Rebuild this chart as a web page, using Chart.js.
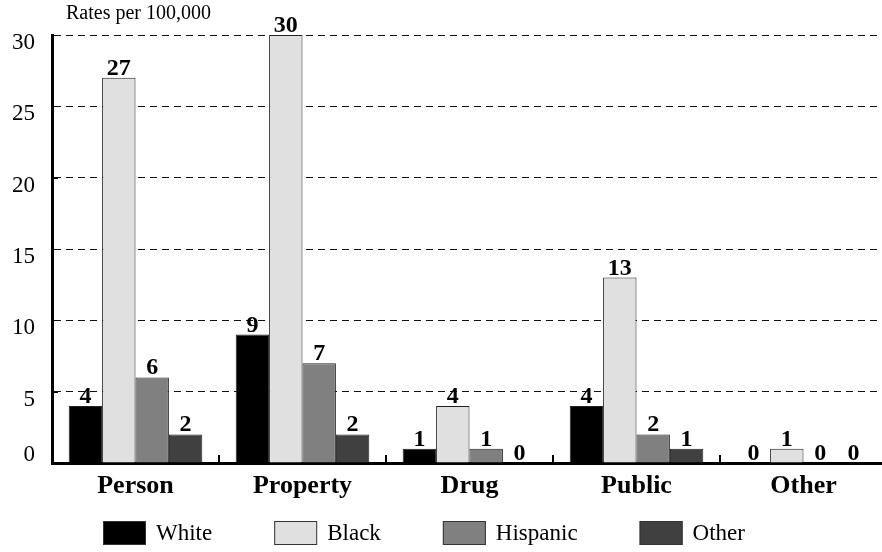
<!DOCTYPE html>
<html>
<head>
<meta charset="utf-8">
<script src="https://cdn.jsdelivr.net/npm/chart.js@4"></script>
<style>
  html, body { margin: 0; padding: 0; background: #fff; overflow: hidden; }
  #wrap { width: 882px; height: 552px; overflow: hidden; }
</style>
</head>
<body>
<div id="wrap"><canvas id="chart" width="890" height="552"></canvas></div>
<script>
const categories = ['Person', 'Property', 'Drug', 'Public', 'Other'];
const seriesNames = ['White', 'Black', 'Hispanic', 'Other'];
const whiteRates = [4, 9, 1, 4, 0];
const blackRates = [27, 30, 4, 13, 1];
const hispanicRates = [6, 7, 1, 2, 0];
const otherRates = [2, 2, 0, 1, 0];
const yTicks = [0, 5, 10, 15, 20, 25, 30];

const colors = ['#000000', '#e0e0e0', '#808080', '#404040'];
const serif = '"Liberation Serif", "Times New Roman", serif';

// value labels, small ticks, legend and axis title
const extras = {
  id: 'extras',
  afterDatasetsDraw(chart) {
    const ctx = chart.ctx;
    ctx.save();
    ctx.font = 'bold 24px ' + serif;
    ctx.fillStyle = '#000';
    ctx.textAlign = 'center';
    ctx.textBaseline = 'alphabetic';
    chart.data.datasets.forEach((ds, i) => {
      chart.getDatasetMeta(i).data.forEach((bar, j) => {
        ctx.fillText(String(ds.data[j]), bar.x, bar.y - 3);
      });
    });
    ctx.restore();
  },
  afterDraw(chart) {
    const ctx = chart.ctx;
    const x = chart.scales.x;
    const y = chart.scales.y;
    const area = chart.chartArea;
    ctx.save();
    ctx.strokeStyle = '#000';
    // upward ticks between categories
    ctx.lineWidth = 2;
    for (let i = 1; i < categories.length; i++) {
      const px = Math.round((x.getPixelForTick(i - 1) + x.getPixelForTick(i)) / 2);
      ctx.beginPath();
      ctx.moveTo(px, area.bottom);
      ctx.lineTo(px, area.bottom - 8);
      ctx.stroke();
    }
    // short inward ticks on the value axis
    ctx.lineWidth = 1;
    yTicks.forEach(v => {
      const py = Math.round(y.getPixelForValue(v)) + 0.5;
      ctx.beginPath();
      ctx.moveTo(area.left, py);
      ctx.lineTo(area.left + 6, py);
      ctx.stroke();
    });
    ctx.fillStyle = '#000';
    // the zero label sits above the axis
    ctx.font = '23px ' + serif;
    ctx.textAlign = 'right';
    ctx.textBaseline = 'middle';
    ctx.fillText('0', 35, y.getPixelForValue(0) - 8);
    // axis title
    ctx.font = '20px ' + serif;
    ctx.textAlign = 'left';
    ctx.textBaseline = 'alphabetic';
    ctx.fillText('Rates per 100,000', 66, 19);
    // legend
    ctx.font = '23px ' + serif;
    ctx.textBaseline = 'middle';
    let lx = 103;
    const ly = 521;
    chart.data.datasets.forEach((ds) => {
      ctx.fillStyle = ds.backgroundColor;
      ctx.fillRect(lx, ly, 43, 24);
      ctx.strokeStyle = '#333';
      ctx.lineWidth = 1;
      ctx.strokeRect(lx + 0.5, ly + 0.5, 42, 23);
      ctx.fillStyle = '#000';
      ctx.fillText(ds.label, lx + 53, ly + 13);
      lx += 53 + ctx.measureText(ds.label).width + 62;
    });
    ctx.restore();
  }
};

new Chart(document.getElementById('chart').getContext('2d'), {
  type: 'bar',
  data: {
    labels: categories,
    datasets: [whiteRates, blackRates, hispanicRates, otherRates].map((d, i) => ({
      label: seriesNames[i],
      data: d,
      backgroundColor: colors[i],
      borderColor: '#222',
      borderWidth: 1,
      borderSkipped: 'bottom',
      categoryPercentage: 0.8,
      barPercentage: 1.0
    }))
  },
  options: {
    responsive: false,
    animation: false,
    layout: { padding: { top: 35, bottom: 44, left: 0, right: 3 } },
    plugins: {
      legend: { display: false },
      tooltip: { enabled: false }
    },
    scales: {
      x: {
        grid: { display: false, drawTicks: false },
        border: { display: true, color: '#000', width: 3 },
        ticks: {
          color: '#000',
          font: { family: serif, size: 26, weight: 'bold' },
          padding: 8
        },
        afterFit(s) { s.height = 45; }
      },
      y: {
        min: 0,
        max: 30,
        afterBuildTicks(s) { s.ticks = yTicks.map(v => ({ value: v })); },
        grid: {
          color: (c) => (c.tick && c.tick.value === 0) ? 'rgba(0,0,0,0)' : '#111',
          lineWidth: 1,
          drawTicks: false
        },
        border: { display: true, color: '#000', width: 3, dash: [7, 5] },
        ticks: {
          color: '#000',
          font: { family: serif, size: 23 },
          padding: 17,
          labelOffset: 8,
          callback: (v) => v === 0 ? '' : String(v)
        },
        afterFit(s) { s.width = 52; }
      }
    }
  },
  plugins: [extras]
});
</script>
</body>
</html>
